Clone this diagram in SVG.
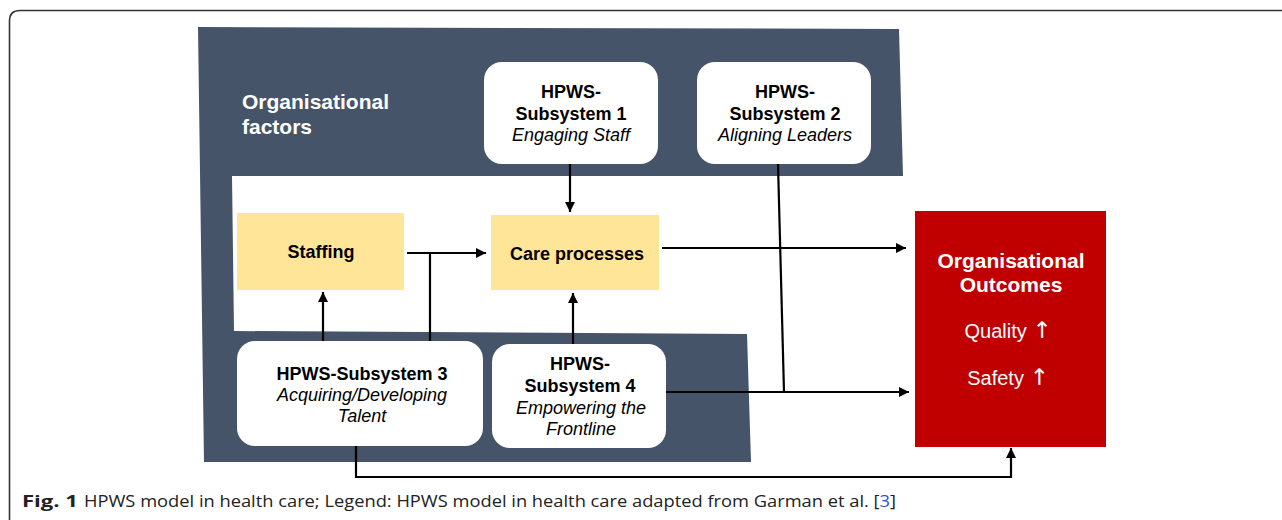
<svg xmlns="http://www.w3.org/2000/svg" width="1282" height="520" viewBox="0 0 1282 520">
<style>
.box{fill:#ffffff;}
.b{font-family:"Liberation Sans",Arial,sans-serif;font-weight:bold;font-size:18px;fill:#000;text-anchor:middle;}
.i{font-family:"Liberation Sans",Arial,sans-serif;font-style:italic;font-size:18px;fill:#000;text-anchor:middle;}
.w{font-family:"Liberation Sans",Arial,sans-serif;fill:#fff;}
.ar{font-family:"DejaVu Sans",sans-serif;font-size:23px;font-weight:normal;}
.ln{stroke:#000;stroke-width:2.2;fill:none;}
</style>
<defs>
<marker id="ah" viewBox="0 0 10 10" refX="10" refY="5" markerWidth="10" markerHeight="10" markerUnits="userSpaceOnUse" orient="auto">
<path d="M0,0 L10,5 L0,10 Z" fill="#000"/>
</marker>
</defs>
<rect width="1282" height="520" fill="#fff"/>
<path d="M9.5,520 V21 Q9.5,10.5 20,10.5 H1282" fill="none" stroke="#333" stroke-width="1.6"/>
<g id="org-factors">
<polygon points="198,27 899,29 903,176 232,176 234,331 747,334 751,462 204,462" fill="#455468"/>
<text class="w" x="242" y="109" font-size="21" font-weight="bold">Organisational</text>
<text class="w" x="242" y="134" font-size="21" font-weight="bold">factors</text>
</g>
<g id="sub1">
<rect class="box" x="484" y="62" width="174" height="102" rx="18"/>
<text class="b" x="571" y="98">HPWS-</text>
<text class="b" x="571" y="120">Subsystem 1</text>
<text class="i" x="571" y="141">Engaging Staff</text>
</g>
<g id="sub2">
<rect class="box" x="697" y="62" width="174" height="102" rx="18"/>
<text class="b" x="785" y="98">HPWS-</text>
<text class="b" x="785" y="120">Subsystem 2</text>
<text class="i" x="785" y="141">Aligning Leaders</text>
</g>
<g id="staffing">
<rect x="237" y="213" width="167" height="77" fill="#ffe598"/>
<text class="b" x="321" y="258">Staffing</text>
</g>
<g id="care">
<rect x="491" y="215" width="168" height="75" fill="#ffe598"/>
<text class="b" x="577" y="260">Care processes</text>
</g>
<g id="sub3">
<rect class="box" x="237" y="341" width="246" height="105" rx="18"/>
<text class="b" x="362" y="380">HPWS-Subsystem 3</text>
<text class="i" x="362" y="401">Acquiring/Developing</text>
<text class="i" x="362" y="422">Talent</text>
</g>
<g id="sub4">
<rect class="box" x="492" y="344" width="174" height="104" rx="18"/>
<text class="b" x="580" y="370">HPWS-</text>
<text class="b" x="580" y="392">Subsystem 4</text>
<text class="i" x="581" y="414">Empowering the</text>
<text class="i" x="581" y="435">Frontline</text>
</g>
<g id="outcomes">
<rect x="915" y="211" width="191" height="236" fill="#c00000"/>
<text class="w" x="1011" y="268" font-size="21" font-weight="bold" text-anchor="middle">Organisational</text>
<text class="w" x="1011" y="292" font-size="21" font-weight="bold" text-anchor="middle">Outcomes</text>
<text class="w" x="1008" y="338" font-size="20" text-anchor="middle">Quality <tspan class="ar">↑</tspan></text>
<text class="w" x="1008" y="385" font-size="20" text-anchor="middle">Safety <tspan class="ar">↑</tspan></text>
</g>
<g id="connectors">
<line class="ln" x1="570" y1="164" x2="570" y2="212" marker-end="url(#ah)"/>
<line class="ln" x1="778" y1="164" x2="784" y2="392"/>
<line class="ln" x1="662" y1="248" x2="906" y2="248" marker-end="url(#ah)"/>
<line class="ln" x1="407" y1="253" x2="486" y2="253" marker-end="url(#ah)"/>
<line class="ln" x1="430" y1="253" x2="430" y2="341"/>
<line class="ln" x1="323" y1="341" x2="323" y2="292" marker-end="url(#ah)"/>
<line class="ln" x1="573" y1="344" x2="573" y2="293" marker-end="url(#ah)"/>
<line class="ln" x1="666" y1="392" x2="909" y2="392" marker-end="url(#ah)"/>
<polyline class="ln" points="356,446 356,477 1011,477 1011,448" marker-end="url(#ah)"/>
</g>
<g id="caption">
<text x="22" y="507" font-family="'Open Sans','Noto Sans',sans-serif" font-size="16" font-weight="bold" fill="#222" textLength="56" lengthAdjust="spacingAndGlyphs">Fig. 1</text>
<text x="84" y="507" font-family="'Open Sans','Noto Sans',sans-serif" font-size="16" fill="#222" textLength="812" lengthAdjust="spacingAndGlyphs">HPWS model in health care; Legend: HPWS model in health care adapted from Garman et al. [<tspan fill="#2a4fd6">3</tspan>]</text>
</g>
</svg>
